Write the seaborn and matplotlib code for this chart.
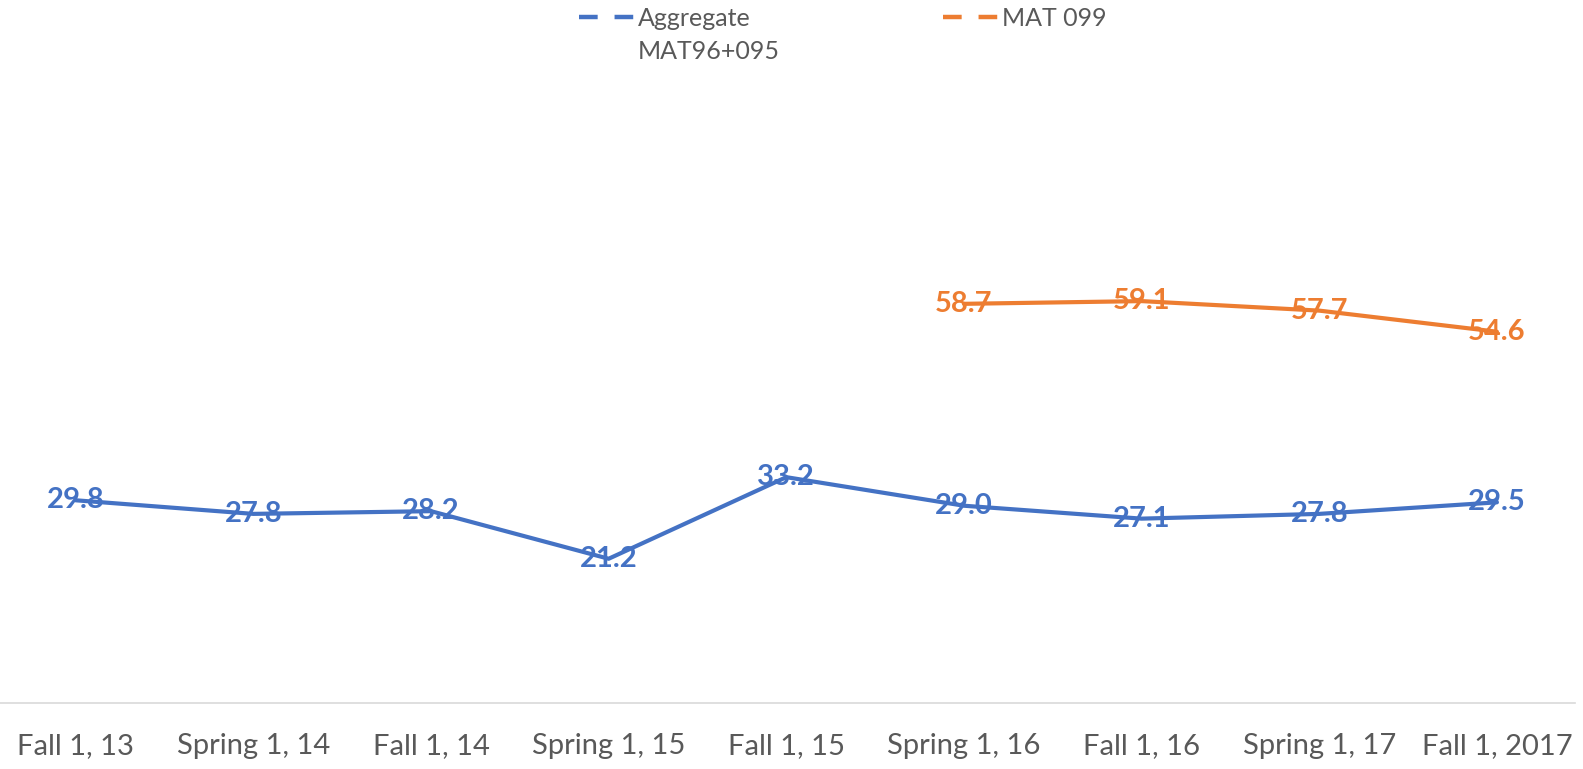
import pandas as pd
import numpy as np
import matplotlib.pyplot as plt
import seaborn as sns
from matplotlib.lines import Line2D

# dados
semestres = ['Fall 1, 13', 'Spring 1, 14', 'Fall 1, 14', 'Spring 1, 15', 'Fall 1, 15',
             'Spring 1, 16', 'Fall 1, 16', 'Spring 1, 17', 'Fall 1, 2017']
aggregate = [29.8, 27.8, 28.2, 21.2, 33.2, 29.0, 27.1, 27.8, 29.5]
mat099 = [np.nan, np.nan, np.nan, np.nan, np.nan, 58.7, 59.1, 57.7, 54.6]
series = ['Aggregate MAT96+095', 'MAT 099']

df = pd.DataFrame({'Semestre': semestres * 2,
                   'Valor': aggregate + mat099,
                   'Serie': [series[0]] * len(semestres) + [series[1]] * len(semestres)})
df = df.dropna()

sns.set_style('white')
plt.rcParams['font.family'] = ['Lato', 'DejaVu Sans']

cores = ['#4472C4', '#ED7D31']
cinza = '#595959'

fig = plt.figure(figsize=(15.83, 7.69), dpi=100)
ax = fig.add_axes([0.0, 0.086, 0.995, 0.884])

sns.lineplot(data=df, x='Semestre', y='Valor', hue='Serie', palette=cores,
             linewidth=3.0, sort=False, ax=ax, legend=False)

ax.set_xticks(range(len(semestres)))
ax.set_xticklabels(semestres, fontsize=21, color=cinza)
ax.set_xlim(-0.426, 8.44)
ax.set_ylim(0, 100)
ax.set_yticks([])
ax.set_xlabel('')
ax.set_ylabel('')
ax.tick_params(axis='x', length=0, pad=22)

for s in ['top', 'right', 'left']:
    ax.spines[s].set_visible(False)
ax.spines['bottom'].set_color('#d9d9d9')
ax.spines['bottom'].set_linewidth(1.2)

# rótulos
for i, v in enumerate(aggregate):
    ax.text(i, v, f'{v:.1f}', color=cores[0], fontsize=21, fontweight='bold',
            ha='center', va='center')
for i, v in enumerate(mat099):
    if not np.isnan(v):
        ax.text(i, v, f'{v:.1f}', color=cores[1], fontsize=21, fontweight='bold',
                ha='center', va='center')

# legenda (segunda linha do rótulo fica abaixo, como no Excel)
handles = [Line2D([0], [0], color=c, linewidth=3.2, dashes=(4.2, 3.8)) for c in cores]
leg = fig.legend(handles, ['Aggregate', 'MAT 099'], loc='upper left', ncol=2, frameon=False,
                 bbox_to_anchor=(0.366, 0.991), fontsize=18, handlelength=2.2,
                 handletextpad=0.15, columnspacing=7.7, labelcolor=cinza,
                 borderpad=0, borderaxespad=0)
fig.canvas.draw()
bb = leg.get_texts()[0].get_window_extent().transformed(fig.transFigure.inverted())
fig.text(bb.x0, 1 - 59 / 769, 'MAT96+095', fontsize=18, color=cinza, ha='left', va='baseline')

fig.savefig('out.png', dpi=100)
